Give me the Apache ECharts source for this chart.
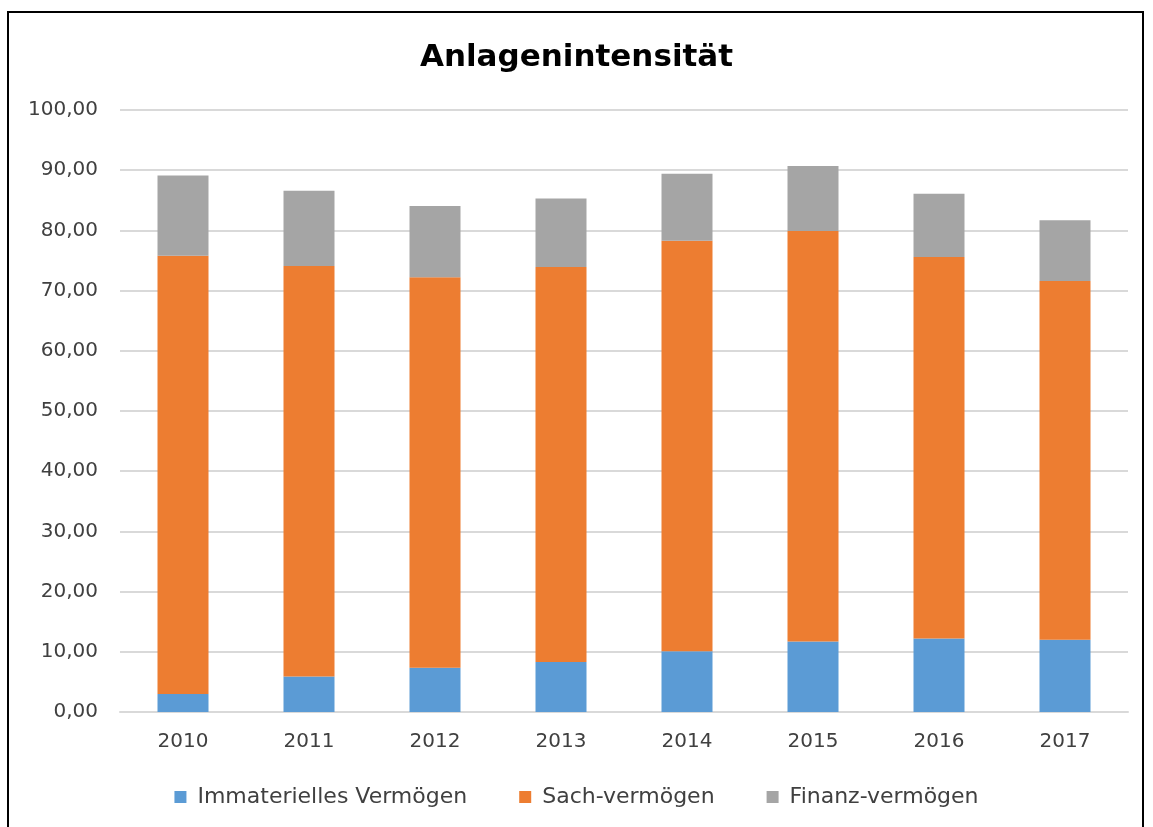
<!DOCTYPE html>
<html>
<head>
<meta charset="utf-8">
<script src="https://cdn.jsdelivr.net/npm/echarts@6/dist/echarts.min.js"></script>
<style>
  html, body { margin: 0; padding: 0; background: #fff; }
  .frame {
    position: absolute;
    left: 7px;
    top: 11px;
    width: 1137px;
    height: 830px;
    border: 2px solid #000;
    box-sizing: border-box;
  }
  #chart { position: absolute; left: 0; top: 0; width: 1153px; height: 827px; }
</style>
</head>
<body>
<div class="frame"></div>
<div id="chart"></div>
<script>
const years = ['2010', '2011', '2012', '2013', '2014', '2015', '2016', '2017'];
const immateriell = [3.0, 5.9, 7.35, 8.3, 10.1, 11.7, 12.2, 12.0];
const sach = [72.8, 68.2, 64.85, 65.6, 68.2, 68.2, 63.4, 59.6];
const finanz = [13.3, 12.5, 11.85, 11.4, 11.1, 10.8, 10.5, 10.1];

const fontFam = '"DejaVu Sans", sans-serif';

const myChart = echarts.init(document.getElementById('chart'));
const option = {
  animation: false,
  title: {
    text: 'Anlagenintensität',
    left: 'center',
    top: 37,
    textStyle: { fontSize: 31, fontWeight: 'bold', color: '#000', fontFamily: fontFam }
  },
  legend: {
    bottom: 14,
    left: 'center',
    itemWidth: 12,
    itemHeight: 12,
    itemGap: 52,
    icon: 'rect',
    textStyle: { fontSize: 22, color: '#404040', fontFamily: fontFam, padding: [0, 0, 0, 6] },
    data: ['Immaterielles Vermögen', 'Sach-vermögen', 'Finanz-vermögen']
  },
  grid: { left: 120, right: 25, top: 110, bottom: 115 },
  xAxis: {
    type: 'category',
    data: years,
    axisLine: { lineStyle: { color: '#d9d9d9', width: 2 } },
    axisTick: { show: false },
    axisLabel: { fontSize: 20, color: '#404040', margin: 20, fontFamily: fontFam }
  },
  yAxis: {
    type: 'value',
    min: 0,
    max: 100,
    interval: 10,
    axisLine: { show: false },
    axisTick: { show: false },
    splitLine: { lineStyle: { color: '#d9d9d9', width: 2 } },
    axisLabel: {
      fontSize: 20,
      color: '#404040',
      margin: 22,
      fontFamily: fontFam,
      formatter: (v) => v.toFixed(2).replace('.', ',')
    }
  },
  series: [
    {
      name: 'Immaterielles Vermögen',
      type: 'bar',
      stack: 'a',
      barWidth: 51,
      itemStyle: { color: '#5b9bd5' },
      data: immateriell
    },
    {
      name: 'Sach-vermögen',
      type: 'bar',
      stack: 'a',
      itemStyle: { color: '#ed7d31' },
      data: sach
    },
    {
      name: 'Finanz-vermögen',
      type: 'bar',
      stack: 'a',
      itemStyle: { color: '#a5a5a5' },
      data: finanz
    }
  ]
};
myChart.setOption(option);
</script>
</body>
</html>
